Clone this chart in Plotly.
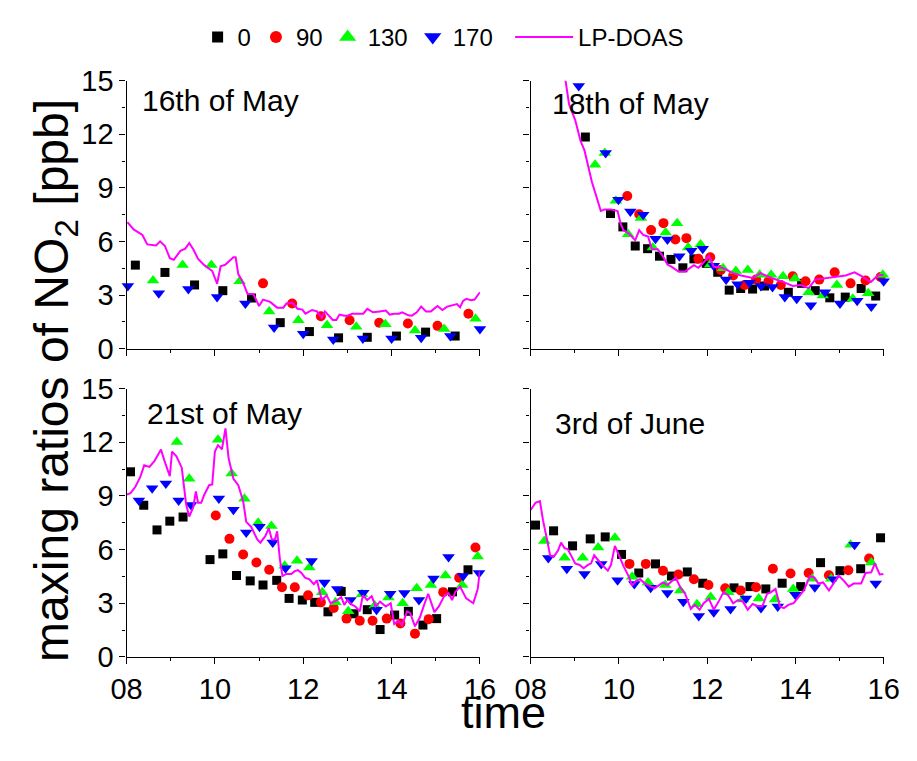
import plotly.graph_objects as go

# ---------------- data (time in decimal hours, NO2 in ppb) ----------------
x_tick_vals = [8, 10, 12, 14, 16]
x_tick_text = ["08", "10", "12", "14", "16"]
x_minor_vals = [9, 11, 13, 15]
y_tick_vals = [0, 3, 6, 9, 12, 15]
y_tick_text = ["0", "3", "6", "9", "12", "15"]
y_minor_vals = [1.5, 4.5, 7.5, 10.5, 13.5]

series_names = ["0", "90", "130", "170", "LP-DOAS"]
panel_titles = ["16th of May", "18th of May", "21st of May", "3rd of June"]

# 16th of May
may16_t0 = [8.20, 8.87, 9.54, 10.18, 10.83, 11.48, 12.14, 12.80, 13.45, 14.11, 14.77, 15.44]
may16_v0 = [4.68, 4.27, 3.57, 3.25, 2.84, 1.46, 0.96, 0.61, 0.64, 0.71, 0.93, 0.71]
may16_t90 = [11.09, 11.75, 12.40, 13.05, 13.72, 14.37, 15.04, 15.74]
may16_v90 = [3.66, 2.53, 1.82, 1.59, 1.45, 1.41, 1.28, 1.96]
may16_t130 = [8.60, 9.27, 9.92, 10.56, 11.23, 11.89, 12.54, 13.20, 13.86, 14.53, 15.19, 15.90]
may16_v130 = [3.82, 4.68, 4.68, 3.78, 2.09, 1.59, 1.32, 1.23, 1.37, 1.02, 1.10, 1.68]
may16_t170 = [8.03, 8.73, 9.40, 10.05, 10.69, 11.34, 12.00, 12.68, 13.35, 14.00, 14.67, 15.33, 16.00]
may16_v170 = [3.51, 3.11, 3.34, 2.89, 2.53, 1.19, 0.84, 0.52, 0.57, 0.57, 0.61, 0.71, 1.10]
may16_tlp = [8.02, 8.16, 8.36, 8.47, 8.67, 8.76, 8.87, 8.98, 9.07, 9.22,
             9.33, 9.42, 9.51, 9.62, 9.76, 9.94, 10.05, 10.13, 10.24, 10.42,
             10.47, 10.53, 10.64, 10.74, 10.87, 11.00, 11.09, 11.25, 11.41, 11.55,
             11.62, 11.76, 11.87, 11.98, 12.05, 12.20, 12.31, 12.42, 12.49, 12.60,
             12.67, 12.75, 12.82, 12.93, 13.00, 13.11, 13.22, 13.36, 13.45, 13.58,
             13.73, 13.87, 13.96, 14.06, 14.17, 14.24, 14.38, 14.46, 14.57, 14.67,
             14.78, 14.89, 15.04, 15.15, 15.26, 15.40, 15.48, 15.55, 15.62, 15.69,
             15.80, 15.88, 16.00]
may16_vlp = [7.09, 6.68, 6.37, 5.84, 5.78, 6.01, 5.75, 5.07, 4.98, 5.48,
             5.60, 5.92, 5.57, 5.03, 4.68, 4.35, 3.64, 4.62, 4.71, 5.12,
             5.12, 4.18, 3.69, 3.07, 3.07, 2.39, 2.75, 2.62, 2.30, 2.30,
             2.53, 2.57, 2.24, 2.19, 1.96, 2.17, 2.09, 1.73, 2.09, 1.82,
             1.61, 1.61, 1.91, 1.85, 1.85, 1.96, 1.96, 1.96, 2.23, 2.04,
             2.09, 2.14, 1.91, 1.96, 1.96, 2.04, 1.87, 1.85, 2.04, 2.36,
             2.09, 2.09, 2.39, 2.17, 2.36, 2.44, 2.50, 2.32, 2.68, 2.79,
             2.71, 2.75, 3.16]

# 18th of May
may18_t0 = [9.24, 9.81, 10.09, 10.37, 10.65, 10.92, 11.18, 11.45, 11.70, 11.98, 12.24, 12.50,
            12.76, 13.03, 13.30, 13.84, 14.14, 14.45, 14.78, 15.13, 15.49, 15.82]
may18_v0 = [11.85, 7.57, 6.82, 5.75, 5.60, 5.18, 5.00, 4.53, 5.03, 4.78, 4.28, 3.28,
            3.37, 3.34, 3.51, 3.16, 3.66, 3.25, 2.85, 2.89, 3.37, 2.95]
may18_t90 = [10.19, 10.46, 10.73, 11.01, 11.28, 11.53, 11.80, 12.07, 12.31, 12.59, 12.85,
             13.11, 13.39, 13.67, 13.94, 14.23, 14.54, 14.89, 15.25, 15.59, 15.93]
may18_v90 = [8.55, 7.53, 6.64, 7.03, 6.11, 6.19, 5.03, 5.12, 4.41, 4.10, 3.57,
             3.87, 3.78, 3.57, 4.05, 3.78, 3.87, 4.28, 3.66, 3.82, 4.02]
may18_t130 = [9.46, 9.68, 9.93, 10.21, 10.50, 10.77, 11.06, 11.32, 11.57, 11.85, 12.07, 12.36,
              12.65, 12.92, 13.19, 13.45, 13.72, 13.99, 14.30, 14.62, 14.94, 15.30, 15.65, 15.98]
may18_v130 = [10.30, 10.96, 8.28, 6.41, 7.32, 5.66, 6.51, 7.03, 5.66, 5.84, 4.71, 4.50,
              4.35, 4.41, 4.14, 4.14, 4.05, 3.93, 3.16, 2.98, 3.57, 2.80, 3.11, 4.14]
may18_t170 = [9.09, 9.70, 9.99, 10.26, 10.55, 10.83, 11.10, 11.37, 11.64, 11.90, 12.15, 12.43,
              12.69, 12.96, 13.22, 13.48, 13.76, 14.03, 14.35, 14.67, 15.01, 15.40, 15.72, 16.00]
may18_v170 = [14.71, 10.96, 8.34, 7.68, 7.50, 6.16, 6.11, 5.18, 5.48, 5.60, 4.64, 3.87,
              3.61, 3.69, 3.51, 3.46, 2.89, 2.80, 2.44, 3.16, 2.53, 2.68, 2.36, 3.78]
may18_tlp = [8.72, 8.79, 8.87, 9.01, 9.13, 9.22, 9.30, 9.39, 9.49, 9.59,
             9.68, 9.82, 9.97, 10.04, 10.10, 10.22, 10.37, 10.46, 10.55, 10.66,
             10.75, 10.88, 10.99, 11.10, 11.19, 11.35, 11.50, 11.61, 11.70, 11.80,
             11.90, 12.04, 12.15, 12.34, 12.59, 12.77, 13.03, 13.21, 13.46, 13.68,
             13.94, 14.12, 14.30, 14.45, 14.59, 14.85, 15.14, 15.34, 15.51, 15.71,
             15.87, 16.00]
may18_vlp = [16.2, 15.03, 13.69, 12.80, 11.64, 11.10, 10.21, 9.32, 8.52, 7.71,
             7.80, 7.80, 7.71, 7.00, 6.64, 6.46, 6.07, 6.64, 6.37, 6.28,
             5.57, 5.57, 5.21, 4.71, 4.59, 4.32, 4.32, 4.50, 4.68, 4.53,
             4.77, 5.20, 4.59, 4.53, 4.23, 4.10, 3.96, 4.23, 3.96, 3.78,
             3.51, 3.57, 3.39, 3.87, 3.91, 4.00, 4.10, 4.28, 4.05, 3.73,
             4.10, 4.14]

# 21st of May
may21_t0 = [8.09, 8.39, 8.69, 8.98, 9.28, 9.89, 10.18, 10.49, 10.80, 11.09, 11.40, 11.68, 11.98,
            12.26, 12.56, 12.86, 13.15, 13.45, 13.74, 14.07, 14.38, 14.71, 15.02, 15.38, 15.73]
may21_v0 = [10.35, 8.48, 7.10, 7.59, 7.82, 5.44, 5.76, 4.55, 4.25, 4.02, 4.28, 3.27, 3.18,
            3.05, 2.52, 3.66, 2.41, 2.64, 1.53, 2.34, 2.55, 1.78, 2.14, 3.64, 4.87]
may21_t90 = [10.02, 10.33, 10.64, 10.94, 11.23, 11.52, 11.81, 12.11, 12.40, 12.69,
             12.98, 13.28, 13.57, 13.89, 14.20, 14.53, 14.84, 15.17, 15.53, 15.90]
may21_v90 = [7.91, 6.60, 5.73, 5.28, 4.87, 3.89, 3.89, 3.44, 3.05, 2.73,
             2.14, 2.02, 2.02, 2.14, 1.87, 1.30, 2.11, 3.62, 4.43, 6.12]
may21_t130 = [9.14, 9.42, 10.07, 10.38, 10.67, 10.98, 11.28, 11.58, 11.86, 12.14, 12.43,
              12.73, 13.02, 13.33, 13.62, 13.93, 14.25, 14.57, 14.89, 15.22, 15.60, 15.95]
may21_v130 = [12.01, 9.96, 12.14, 10.26, 8.84, 7.50, 7.32, 5.10, 5.37, 5.00, 3.62,
              3.05, 2.55, 3.50, 2.87, 3.32, 3.00, 3.84, 4.02, 4.55, 4.02, 5.62]
may21_t170 = [8.28, 8.58, 8.89, 9.18, 9.46, 10.09, 10.42, 10.71, 11.01, 11.31, 11.60, 12.19,
              12.48, 12.77, 13.07, 13.36, 13.66, 13.97, 14.29, 14.62, 14.95, 15.29, 15.62, 15.98]
may21_v170 = [8.75, 9.43, 9.69, 8.75, 8.50, 8.85, 8.23, 6.96, 7.28, 6.39, 4.96, 5.36,
              4.16, 3.80, 3.18, 3.59, 2.64, 3.53, 3.57, 3.18, 4.39, 5.59, 4.52, 4.69]
may21_tlp = [8.00, 8.09, 8.20, 8.31, 8.40, 8.52, 8.63, 8.78, 8.85, 8.93,
             8.98, 9.03, 9.13, 9.25, 9.35, 9.42, 9.51, 9.57, 9.62, 9.69,
             9.76, 9.87, 9.94, 10.00, 10.07, 10.16, 10.24, 10.31, 10.42, 10.53,
             10.64, 10.71, 10.82, 10.96, 11.03, 11.14, 11.22, 11.29, 11.36, 11.41,
             11.47, 11.53, 11.62, 11.73, 11.80, 11.88, 11.96, 12.04, 12.14, 12.24,
             12.31, 12.42, 12.53, 12.62, 12.75, 12.86, 12.93, 13.00, 13.11, 13.18,
             13.28, 13.35, 13.45, 13.55, 13.64, 13.74, 13.87, 13.98, 14.06, 14.15,
             14.24, 14.35, 14.42, 14.53, 14.64, 14.75, 14.83, 14.97, 15.07, 15.20,
             15.29, 15.37, 15.44, 15.55, 15.62, 15.69, 15.85, 15.95, 16.00]
may21_vlp = [9.07, 9.16, 9.51, 10.05, 10.71, 10.62, 10.94, 11.60, 11.03, 10.46,
             10.10, 11.48, 11.21, 10.58, 8.53, 7.85, 8.36, 9.25, 8.62, 8.62,
             9.07, 9.60, 9.64, 11.48, 11.84, 11.60, 12.78, 11.12, 9.96, 9.60,
             8.71, 7.55, 7.28, 6.57, 6.39, 6.75, 7.19, 6.57, 6.57, 7.02,
             5.50, 4.52, 4.64, 4.64, 4.78, 4.85, 4.70, 4.43, 4.34, 4.07,
             4.28, 3.18, 3.44, 3.00, 3.14, 3.35, 2.91, 3.18, 2.91, 2.82,
             2.55, 3.44, 3.18, 3.39, 2.82, 3.09, 2.82, 3.00, 1.84, 2.02,
             1.78, 2.55, 2.46, 1.71, 2.20, 3.00, 3.53, 2.50, 2.82, 3.44,
             3.57, 3.18, 3.62, 3.93, 3.62, 3.27, 3.00, 3.80, 4.78]

# 3rd of June
jun3_t0 = [8.11, 8.52, 8.95, 9.35, 9.69, 10.06, 10.45, 10.83, 11.19, 11.55, 11.90,
           12.61, 12.97, 13.33, 13.70, 14.12, 14.57, 15.01, 15.48, 15.93]
jun3_v0 = [7.37, 7.05, 6.21, 6.60, 6.71, 5.73, 4.69, 5.20, 4.52, 4.75, 4.12,
           3.86, 3.93, 3.80, 4.12, 3.93, 5.27, 4.82, 4.93, 6.66]
jun3_t90 = [10.24, 10.61, 11.00, 11.35, 11.70, 12.03, 12.41, 12.76, 13.11, 13.49, 13.89,
            14.30, 14.76, 15.20, 15.67]
jun3_v90 = [5.20, 5.20, 4.82, 4.61, 4.34, 4.02, 3.84, 3.71, 3.89, 4.93, 4.66,
            4.69, 4.57, 4.84, 5.50]
jun3_t130 = [8.31, 8.77, 9.18, 9.53, 9.91, 10.30, 10.66, 11.05, 11.39, 11.77,
             12.08, 12.48, 12.81, 13.17, 13.54, 13.95, 14.38, 14.81, 15.25, 15.72]
jun3_v130 = [6.48, 5.55, 5.55, 6.12, 6.66, 4.48, 4.16, 4.02, 3.71, 2.95,
             3.35, 3.62, 3.21, 3.27, 3.21, 3.80, 4.37, 4.37, 6.27, 5.28]
jun3_t170 = [8.40, 8.82, 9.22, 9.60, 9.97, 10.35, 10.72, 11.10, 11.46, 11.81,
             12.15, 12.53, 12.88, 13.22, 13.60, 14.00, 14.44, 14.86, 15.34, 15.82]
jun3_v170 = [5.53, 4.93, 4.64, 5.20, 4.28, 4.07, 3.86, 3.57, 3.09, 2.28,
             2.50, 2.68, 3.27, 2.73, 2.82, 3.48, 3.89, 4.34, 6.27, 4.10]
jun3_tlp = [8.00, 8.11, 8.21, 8.28, 8.37, 8.44, 8.52, 8.62, 8.69, 8.77,
            8.84, 8.91, 9.01, 9.11, 9.20, 9.30, 9.37, 9.44, 9.53, 9.62,
            9.75, 9.82, 9.91, 10.00, 10.11, 10.22, 10.30, 10.39, 10.48, 10.59,
            10.70, 10.81, 10.92, 11.00, 11.10, 11.21, 11.29, 11.39, 11.50, 11.63,
            11.72, 11.83, 11.92, 12.04, 12.15, 12.26, 12.37, 12.48, 12.59, 12.70,
            12.81, 12.92, 13.03, 13.14, 13.25, 13.36, 13.45, 13.55, 13.65, 13.74,
            13.84, 13.96, 14.08, 14.19, 14.33, 14.43, 14.52, 14.63, 14.76, 14.86,
            14.98, 15.10, 15.21, 15.32, 15.49, 15.59, 15.72, 15.80, 15.91, 16.00]
jun3_vlp = [8.21, 8.62, 8.71, 7.64, 6.57, 5.68, 5.59, 5.95, 6.39, 6.07,
            6.03, 5.68, 5.23, 5.14, 4.96, 5.14, 5.23, 5.68, 5.41, 5.14,
            4.82, 5.14, 6.21, 5.68, 5.05, 4.52, 3.98, 4.25, 4.34, 4.10,
            3.98, 3.84, 4.03, 4.16, 4.02, 4.28, 4.43, 3.89, 3.53, 2.68,
            2.91, 2.64, 3.00, 3.24, 2.64, 3.09, 3.62, 3.44, 3.00, 3.18,
            3.09, 2.64, 2.96, 2.85, 2.82, 3.53, 3.62, 3.80, 2.82, 2.73,
            2.91, 3.00, 3.35, 3.71, 4.52, 4.43, 4.10, 4.16, 3.71, 4.07,
            4.55, 4.25, 3.93, 4.10, 4.10, 4.69, 4.73, 5.23, 4.61, 4.64]

panels = [
    [(may16_t0, may16_v0), (may16_t90, may16_v90), (may16_t130, may16_v130),
     (may16_t170, may16_v170), (may16_tlp, may16_vlp)],
    [(may18_t0, may18_v0), (may18_t90, may18_v90), (may18_t130, may18_v130),
     (may18_t170, may18_v170), (may18_tlp, may18_vlp)],
    [(may21_t0, may21_v0), (may21_t90, may21_v90), (may21_t130, may21_v130),
     (may21_t170, may21_v170), (may21_tlp, may21_vlp)],
    [(jun3_t0, jun3_v0), (jun3_t90, jun3_v90), (jun3_t130, jun3_v130),
     (jun3_t170, jun3_v170), (jun3_tlp, jun3_vlp)],
]

# ---------------- styling ----------------
# the page body keeps its default 8px margin, so the figure is drawn 8px in
# from the window corner; all page positions below are converted with OFF.
PAGE_W, PAGE_H = 917, 761
OFF = 8
W, H = PAGE_W - 2 * OFF, PAGE_H - 2 * OFF
FONT = "Arial, Liberation Sans, sans-serif"
colors = ["#000000", "#ff0000", "#00ff00", "#0000ff", "#ff00ff"]
symbols = ["square", "circle", "triangle-up", "triangle-down"]
msizes = [9, 10, 11, 11]
legend_msizes = [11, 12, 15, 15]


def px(xp):
    return (xp - OFF) / W


def py(yp):
    return 1 - (yp - OFF) / H


# page-pixel geometry of the four plot areas (left, right, top, bottom)
boxes = [(114.3, 480.7, 67.3, 347.3), (533.3, 899.3, 67.3, 347.3),
         (114.3, 480.7, 389.0, 669.3), (533.3, 899.3, 389.0, 669.3)]

fig = go.Figure()

for p, series in enumerate(panels):
    xa = "x" if p == 0 else f"x{p+1}"
    ya = "y" if p == 0 else f"y{p+1}"
    for s in range(4):
        t, v = series[s]
        fig.add_trace(go.Scatter(
            x=t, y=v, mode="markers", xaxis=xa, yaxis=ya, showlegend=False,
            name=series_names[s], cliponaxis=False,
            marker=dict(symbol=symbols[s], size=msizes[s], color=colors[s],
                        line=dict(width=0))))
    t, v = series[4]
    fig.add_trace(go.Scatter(
        x=t, y=v, mode="lines", xaxis=xa, yaxis=ya, showlegend=False,
        name=series_names[4], line=dict(color=colors[4], width=2)))

# legend entries (larger symbols, as in the original legend)
for s in range(4):
    fig.add_trace(go.Scatter(
        x=[None], y=[None], mode="markers", name=series_names[s], showlegend=True,
        legend="legend",
        marker=dict(symbol=symbols[s], size=legend_msizes[s], color=colors[s],
                    line=dict(width=0))))
fig.add_trace(go.Scatter(x=[None], y=[None], mode="lines", name=series_names[4],
                         showlegend=True, legend="legend2",
                         line=dict(color=colors[4], width=2)))

legend_font = dict(size=24, family=FONT, color="black")
layout = dict(
    width=W, height=H, margin=dict(l=0, r=0, t=0, b=0),
    paper_bgcolor="white", plot_bgcolor="white",
    font=dict(family=FONT, color="black"),
    showlegend=True,
    legend=dict(orientation="h", x=px(188), xanchor="left", y=py(22),
                yanchor="middle", font=legend_font,
                bgcolor="rgba(0,0,0,0)", itemwidth=30, traceorder="normal"),
    legend2=dict(orientation="h", x=px(512), xanchor="left", y=py(22),
                 yanchor="middle", font=legend_font,
                 bgcolor="rgba(0,0,0,0)", itemwidth=58),
)

for p, (l, r, tp, bt) in enumerate(boxes):
    xk = "xaxis" if p == 0 else f"xaxis{p+1}"
    yk = "yaxis" if p == 0 else f"yaxis{p+1}"
    ya = "y" if p == 0 else f"y{p+1}"
    xa = "x" if p == 0 else f"x{p+1}"
    layout[xk] = dict(
        domain=[px(l), px(r)], anchor=ya, range=[8, 16],
        tickmode="array", tickvals=x_tick_vals, ticktext=x_tick_text,
        showticklabels=(p >= 2), ticks="outside", ticklen=6, tickwidth=1.3,
        tickcolor="black", showline=True, linecolor="black", linewidth=1.3,
        showgrid=False, zeroline=False,
        tickfont=dict(size=29, family=FONT, color="black"),
        minor=dict(tickmode="array", tickvals=x_minor_vals, ticks="outside",
                   ticklen=3, tickwidth=1.3, tickcolor="black", showgrid=False))
    layout[yk] = dict(
        domain=[py(bt), py(tp)], anchor=xa, range=[0, 15],
        tickmode="array", tickvals=y_tick_vals, ticktext=y_tick_text,
        showticklabels=(p % 2 == 0), ticks="outside", ticklen=6, tickwidth=1.3,
        tickcolor="black", showline=True, linecolor="black", linewidth=1.3,
        showgrid=False, zeroline=False,
        tickfont=dict(size=29, family=FONT, color="black"),
        minor=dict(tickmode="array", tickvals=y_minor_vals, ticks="outside",
                   ticklen=3, tickwidth=1.3, tickcolor="black", showgrid=False))

title_pos = [(128, 88), (553, 91), (133, 415), (556, 425)]
annotations = []
for (tx, ty), txt in zip(title_pos, panel_titles):
    annotations.append(dict(text=txt, x=px(tx), y=py(ty), xref="paper", yref="paper",
                            xanchor="left", yanchor="middle", showarrow=False,
                            font=dict(size=30, family=FONT, color="black")))
annotations.append(dict(text="maxing ratios of NO<sub>2</sub> [ppb]", x=px(40), y=py(380),
                        xref="paper", yref="paper", xanchor="center", yanchor="middle",
                        textangle=-90, showarrow=False,
                        font=dict(size=48, family=FONT, color="black")))
annotations.append(dict(text="time", x=px(505), y=py(756), xref="paper", yref="paper",
                        xanchor="center", yanchor="bottom", showarrow=False,
                        font=dict(size=45, family=FONT, color="black")))
layout["annotations"] = annotations

fig.update_layout(**layout)
fig.write_html("out.html")
